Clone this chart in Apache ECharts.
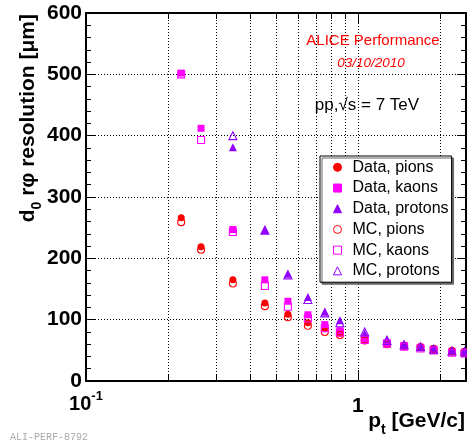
<!DOCTYPE html>
<html><head><meta charset="utf-8">
<script src="https://cdn.jsdelivr.net/npm/echarts@6/dist/echarts.min.js"></script>
<style>html,body{margin:0;padding:0;background:#fff}#c{width:467px;height:443px}</style>
</head><body><div id="c"></div>
<script>
// ---- data ----
const ptValues    = [0.224, 0.265, 0.347, 0.455, 0.553, 0.655, 0.756, 0.859, 1.06, 1.28, 1.48, 1.70, 1.90, 2.22, 2.47];
const pionsData   = [266, 219, 165, 127, 109, 95, 86, 78, 67, 61, 58, 56, 53, 50, 48];
const pionsMC     = [259, 214, 159, 122, 104, 90, 80, 75, 66, 60, 57, 55, 52, 48, 47];
const kaonsData   = [502, 412, 247, 165, 130, 108, 92, 82, 69, 62, 58, 55, 52, 48, 47];
const kaonsMC     = [500, 393, 243, 155, 121, 102, 86, 79, 67, 61, 56, 53, 50, 46, 45];
const protonsData = [null, null, 381, 246, 175, 137, 113, 99, 77, 68, 60, 57, 53, 50, 49];
const protonsMC   = [null, null, 400, 246, 173, 133, 111, 95, 80, 66, 59, 56, 52, 49, 48];
const seriesNames = ['Data, pions', 'Data, kaons', 'Data, protons', 'MC, pions', 'MC, kaons', 'MC, protons'];
const xGridValues = [0.2, 0.3, 0.4, 0.5, 0.6, 0.7, 0.8, 0.9, 1, 2];
const yMin = 0, yMax = 600, yStep = 100;
const xMin = 0.1, xMax = 2.5;

const FONT = 'Liberation Sans, Arial, Helvetica, sans-serif';
const RED = '#ff0000', MAG = '#ff00ff', VIO = '#9100ff';

function pairs(vals) {
  const out = [];
  ptValues.forEach((p, i) => { if (vals[i] != null) out.push([p, vals[i]]); });
  return out;
}
function filled(name, vals, symbol, color, size) {
  return { type: 'scatter', name, data: pairs(vals), symbol, symbolSize: size, symbolKeepAspect: true, z: 5,
    itemStyle: { color, borderColor: color, borderWidth: 0, opacity: 1 }, silent: true, animation: false };
}
function open(name, vals, symbol, color, size) {
  return { type: 'scatter', name, data: pairs(vals), symbol, symbolSize: size, symbolKeepAspect: true, z: 6,
    itemStyle: { color: 'rgba(255,255,255,0)', borderColor: color, borderWidth: 1.1, opacity: 1 }, silent: true, animation: false };
}

const chart = echarts.init(document.getElementById('c'), null, { renderer: 'canvas' });

const yAxisBase = {
  type: 'value', min: yMin, max: yMax, interval: yStep,
  axisLine: { show: true, onZero: false, lineStyle: { color: '#000', width: 2 } },
  axisTick: { show: true, inside: true, length: 9, lineStyle: { color: '#000', width: 1 } },
  minorTick: { show: true, splitNumber: 5, length: 5, lineStyle: { color: '#000', width: 1 } },
};

chart.setOption({
  animation: false,
  backgroundColor: '#fff',
  grid: { left: 86, right: 1, top: 13, bottom: 62, containLabel: false },
  xAxis: [
    { type: 'log', logBase: 10, min: xMin, max: xMax, position: 'bottom',
      axisLine: { show: true, onZero: false, lineStyle: { color: '#000', width: 2 } },
      axisTick: { show: true, inside: true, length: 11, lineStyle: { color: '#000' } },
      splitLine: { show: false },
      axisLabel: {
        show: true, margin: 9, showMaxLabel: false,
        formatter: v => (Math.abs(v - 0.1) < 1e-6 ? '{b|10}{s|-1}' : (Math.abs(v - 1) < 1e-6 ? '{one|1}' : '')),
        rich: {
          b: { fontSize: 20, fontWeight: 'bold', fontFamily: FONT, color: '#000', lineHeight: 24, verticalAlign: 'bottom' },
          s: { fontSize: 13, fontWeight: 'bold', fontFamily: FONT, color: '#000', lineHeight: 24, verticalAlign: 'top' },
          one: { fontSize: 21, fontWeight: 'bold', fontFamily: FONT, color: '#000', padding: [6, 0, 0, 0] }
        }
      } },
    { type: 'log', logBase: 10, min: xMin, max: xMax, position: 'top',
      axisLine: { show: true, onZero: false, lineStyle: { color: '#000', width: 2 } },
      axisTick: { show: true, inside: true, length: 11, lineStyle: { color: '#000' } },
      splitLine: { show: false }, axisLabel: { show: false } }
  ],
  yAxis: [
    Object.assign({}, yAxisBase, { position: 'left',
      splitLine: { show: true, lineStyle: { color: '#000', width: 1, type: [1, 2] } },
      axisLabel: { show: true, margin: 4, fontSize: 21, fontWeight: 'bold', fontFamily: FONT, color: '#000' } }),
    Object.assign({}, yAxisBase, { position: 'right', splitLine: { show: false }, axisLabel: { show: false } })
  ],
  legend: {
    data: seriesNames, orient: 'vertical', left: 320, top: 156,
    padding: [1, 3, 1, 13], itemWidth: 8, itemHeight: 8, itemGap: 0, selectedMode: false,
    symbolKeepAspect: true,
    textStyle: { fontSize: 16, fontFamily: FONT, color: '#000', lineHeight: 20.7, padding: [0, 0, 0, 6] },
    backgroundColor: '#fff', borderColor: '#000', borderWidth: 1,
    shadowColor: '#666', shadowBlur: 0, shadowOffsetX: 2, shadowOffsetY: 2,
    itemStyle: { borderWidth: 1 }
  },
  series: [
    { type: 'custom', silent: true, z: 1, clip: false, data: xGridValues.map(v => [v, yMin]),
      renderItem: (params, api) => {
        const v = api.value(0);
        const b = api.coord([v, yMin]), t = api.coord([v, yMax]);
        const x = Math.round(b[0]) + 0.5;
        const children = [{ type: 'line', shape: { x1: x, y1: b[1], x2: x, y2: t[1] },
          style: { stroke: '#000', lineWidth: 1, lineDash: [1, 2] } }];
        if (Math.abs(v - 1) > 1e-6) {
          children.push({ type: 'line', shape: { x1: x, y1: b[1], x2: x, y2: b[1] - 6 }, style: { stroke: '#000', lineWidth: 1 } });
          children.push({ type: 'line', shape: { x1: x, y1: t[1], x2: x, y2: t[1] + 6 }, style: { stroke: '#000', lineWidth: 1 } });
        }
        return { type: 'group', children };
      } },
    filled(seriesNames[0], pionsData, 'circle', RED, 7),
    filled(seriesNames[1], kaonsData, 'rect', MAG, 7),
    filled(seriesNames[2], protonsData, 'triangle', VIO, 8),
    open(seriesNames[3], pionsMC, 'circle', RED, 7),
    open(seriesNames[4], kaonsMC, 'rect', MAG, 7),
    open(seriesNames[5], protonsMC, 'triangle', VIO, 8)
  ],
  graphic: [
    { type: 'text', x: 373, y: 41, z: 10, style: { text: 'ALICE Performance', fill: RED, font: '15px ' + FONT, align: 'center', verticalAlign: 'middle' } },
    { type: 'text', x: 371, y: 63, z: 10, style: { text: '03/10/2010', fill: RED, font: 'italic 13.5px ' + FONT, align: 'center', verticalAlign: 'middle' } },
    { type: 'text', x: 367, y: 105, z: 10, style: { text: 'pp,\u221As = 7 TeV', fill: '#000', font: '17px ' + FONT, align: 'center', verticalAlign: 'middle' } },
    { type: 'text', x: 10, y: 437, z: 10, style: { text: 'ALI-PERF-8792', fill: '#aaa', font: '10px Liberation Mono, monospace', align: 'left', verticalAlign: 'middle' } },
    { type: 'text', x: 31, y: 14, rotation: Math.PI / 2, z: 10,
      style: { text: '{a|d}{s|0}{a| r\u03C6 resolution [\u03BCm]}', align: 'right', verticalAlign: 'middle',
        rich: {
          a: { fontSize: 21, fontWeight: 'bold', fontFamily: FONT, fill: '#000', lineHeight: 26, verticalAlign: 'top' },
          s: { fontSize: 14, fontWeight: 'bold', fontFamily: FONT, fill: '#000', lineHeight: 26, verticalAlign: 'bottom' }
        } } },
    { type: 'text', x: 465, y: 424, z: 10,
      style: { text: '{a|p}{s|t}{a| [GeV/c]}', align: 'right', verticalAlign: 'middle',
        rich: {
          a: { fontSize: 21, fontWeight: 'bold', fontFamily: FONT, fill: '#000', lineHeight: 26, verticalAlign: 'top' },
          s: { fontSize: 14, fontWeight: 'bold', fontFamily: FONT, fill: '#000', lineHeight: 26, verticalAlign: 'bottom' }
        } } }
  ]
});
</script></body></html>
